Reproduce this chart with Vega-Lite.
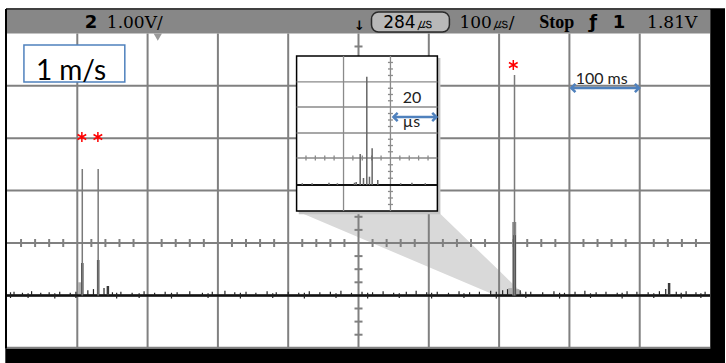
{
  "$schema": "https://vega.github.io/schema/vega-lite/v6.json",
  "width": 726,
  "height": 363,
  "autosize": {"type": "fit", "contains": "padding"},
  "padding": 0,
  "background": "white",
  "config": {"view": {"stroke": null}},
  "encoding": {
    "x": {"field": "x", "type": "quantitative", "scale": {"domain": [-509.94, 521.31], "nice": false, "zero": false}, "axis": null},
    "y": {"field": "y", "type": "quantitative", "scale": {"domain": [-2.29, 4.637], "nice": false, "zero": false}, "axis": null}
  },
  "layer": [
    {
      "data": {"values": [{"x": -500, "x2": 500, "y": 4.0, "y2": 4.447}]},
      "mark": {"type": "rect", "color": "#878787"},
      "encoding": {"x2": {"field": "x2"}, "y2": {"field": "y2"}}
    },
    {
      "data": {"values": [
        {"x": -88.07, "y": 0.611, "y2": 0.611},
        {"x": 112.2, "y": 0.611, "y2": -0.529},
        {"x": 200.3, "y": -0.532, "y2": -1.031},
        {"x": 238.6, "y": -1.031, "y2": -1.031}
      ]},
      "mark": {"type": "area", "color": "#d9d9d9"},
      "encoding": {"y2": {"field": "y2"}}
    },
    {
      "data": {"values": [
        {"x": -400, "y": -2, "y2": 4}, {"x": -300, "y": -2, "y2": 4}, {"x": -200, "y": -2, "y2": 4},
        {"x": -100, "y": -2, "y2": 4}, {"x": 0, "y": -2, "y2": 4}, {"x": 100, "y": -2, "y2": 4},
        {"x": 200, "y": -2, "y2": 4}, {"x": 300, "y": -2, "y2": 4}, {"x": 400, "y": -2, "y2": 4}
      ]},
      "mark": {"type": "rule", "color": "#808080", "strokeWidth": 2},
      "encoding": {"y2": {"field": "y2"}}
    },
    {
      "data": {"values": [
        {"x": -500, "x2": 500, "y": -2}, {"x": -500, "x2": 500, "y": -1}, {"x": -500, "x2": 500, "y": 0},
        {"x": -500, "x2": 500, "y": 1}, {"x": -500, "x2": 500, "y": 2}, {"x": -500, "x2": 500, "y": 3}
      ]},
      "mark": {"type": "rule", "color": "#808080", "strokeWidth": 2},
      "encoding": {"x2": {"field": "x2"}}
    },
    {
      "data": {"values": [
        {"x": -480, "y": 0}, {"x": -460, "y": 0}, {"x": -440, "y": 0}, {"x": -420, "y": 0},
        {"x": -380, "y": 0}, {"x": -360, "y": 0}, {"x": -340, "y": 0}, {"x": -320, "y": 0},
        {"x": -280, "y": 0}, {"x": -260, "y": 0}, {"x": -240, "y": 0}, {"x": -220, "y": 0},
        {"x": -180, "y": 0}, {"x": -160, "y": 0}, {"x": -140, "y": 0}, {"x": -120, "y": 0},
        {"x": -80, "y": 0}, {"x": -60, "y": 0}, {"x": -40, "y": 0}, {"x": -20, "y": 0},
        {"x": 20, "y": 0}, {"x": 40, "y": 0}, {"x": 60, "y": 0}, {"x": 80, "y": 0},
        {"x": 120, "y": 0}, {"x": 140, "y": 0}, {"x": 160, "y": 0}, {"x": 180, "y": 0},
        {"x": 220, "y": 0}, {"x": 240, "y": 0}, {"x": 260, "y": 0}, {"x": 280, "y": 0},
        {"x": 320, "y": 0}, {"x": 340, "y": 0}, {"x": 360, "y": 0}, {"x": 380, "y": 0},
        {"x": 420, "y": 0}, {"x": 440, "y": 0}, {"x": 460, "y": 0}, {"x": 480, "y": 0}
      ]},
      "mark": {"type": "tick", "orient": "vertical", "size": 8, "thickness": 2, "color": "#808080", "opacity": 1}
    },
    {
      "data": {"values": [
        {"x": 0, "y": -1.75}, {"x": 0, "y": -1.5}, {"x": 0, "y": -1.25},
        {"x": 0, "y": -0.75}, {"x": 0, "y": -0.5}, {"x": 0, "y": -0.25},
        {"x": 0, "y": 0.25}, {"x": 0, "y": 0.5}, {"x": 0, "y": 0.75},
        {"x": 0, "y": 1.25}, {"x": 0, "y": 1.5}, {"x": 0, "y": 1.75},
        {"x": 0, "y": 2.25}, {"x": 0, "y": 2.5}, {"x": 0, "y": 2.75},
        {"x": 0, "y": 3.25}, {"x": 0, "y": 3.5}, {"x": 0, "y": 3.75}
      ]},
      "mark": {"type": "tick", "orient": "horizontal", "size": 8, "thickness": 2, "color": "#808080", "opacity": 1}
    },
    {
      "data": {"values": [
        {"x": -396, "y": -1, "y2": -0.75},
        {"x": 216, "y": -1, "y2": -0.86},
        {"x": 226, "y": -1, "y2": -0.88}
      ]},
      "mark": {"type": "rule", "color": "#b0b0b0", "strokeWidth": 4},
      "encoding": {"y2": {"field": "y2"}}
    },
    {
      "data": {"values": [{"x": -500, "x2": 500, "y": -1.0}]},
      "mark": {"type": "rule", "color": "#111111", "strokeWidth": 2.5},
      "encoding": {"x2": {"field": "x2"}}
    },
    {
      "data": {"values": [
        {"x": -495, "y": -1.05, "y2": -0.94}, {"x": -490, "y": -1, "y2": -0.93}, {"x": -478, "y": -1, "y2": -0.95}, {"x": -470, "y": -1.05, "y2": -0.96}, {"x": -465, "y": -1, "y2": -0.92},
        {"x": -452, "y": -1, "y2": -0.95}, {"x": -440, "y": -1, "y2": -0.94}, {"x": -432, "y": -1.06, "y2": -0.96}, {"x": -425, "y": -1, "y2": -0.93},
        {"x": -410, "y": -1, "y2": -0.95}, {"x": -402, "y": -1.05, "y2": -0.93}, {"x": -385, "y": -1, "y2": -0.9}, {"x": -377, "y": -1, "y2": -0.88},
        {"x": -362, "y": -1, "y2": -0.86}, {"x": -350, "y": -1, "y2": -0.94}, {"x": -344, "y": -1.06, "y2": -0.95}, {"x": -338, "y": -1, "y2": -0.93},
        {"x": -322, "y": -1, "y2": -0.95}, {"x": -312, "y": -1.05, "y2": -0.96}, {"x": -305, "y": -1, "y2": -0.92}, {"x": -290, "y": -1, "y2": -0.95},
        {"x": -275, "y": -1, "y2": -0.93}, {"x": -266, "y": -1.06, "y2": -0.95}, {"x": -258, "y": -1, "y2": -0.94}, {"x": -240, "y": -1, "y2": -0.92},
        {"x": -222, "y": -1, "y2": -0.95}, {"x": -214, "y": -1.05, "y2": -0.96}, {"x": -208, "y": -1, "y2": -0.93}, {"x": -190, "y": -1, "y2": -0.91},
        {"x": -176, "y": -1, "y2": -0.94}, {"x": -168, "y": -1.06, "y2": -0.95}, {"x": -160, "y": -1, "y2": -0.93}, {"x": -146, "y": -1, "y2": -0.95},
        {"x": -130, "y": -1, "y2": -0.92}, {"x": -122, "y": -1.05, "y2": -0.96}, {"x": -117, "y": -1, "y2": -0.94}, {"x": -100, "y": -1, "y2": -0.93},
        {"x": -85, "y": -1, "y2": -0.95}, {"x": -77, "y": -1.06, "y2": -0.95}, {"x": -70, "y": -1, "y2": -0.92}, {"x": -55, "y": -1, "y2": -0.94},
        {"x": -40, "y": -1, "y2": -0.93}, {"x": -32, "y": -1.05, "y2": -0.96}, {"x": -25, "y": -1, "y2": -0.91}, {"x": -10, "y": -1, "y2": -0.95},
        {"x": 5, "y": -1, "y2": -0.93}, {"x": 13, "y": -1.06, "y2": -0.95}, {"x": 20, "y": -1, "y2": -0.94}, {"x": 35, "y": -1, "y2": -0.92},
        {"x": 50, "y": -1, "y2": -0.95}, {"x": 58, "y": -1.05, "y2": -0.96}, {"x": 68, "y": -1, "y2": -0.93}, {"x": 82, "y": -1, "y2": -0.91},
        {"x": 97, "y": -1, "y2": -0.94}, {"x": 104, "y": -1.06, "y2": -0.95}, {"x": 112, "y": -1, "y2": -0.93}, {"x": 128, "y": -1, "y2": -0.95},
        {"x": 143, "y": -1, "y2": -0.92}, {"x": 150, "y": -1.05, "y2": -0.96}, {"x": 158, "y": -1, "y2": -0.94}, {"x": 172, "y": -1, "y2": -0.93},
        {"x": 188, "y": -1, "y2": -0.91}, {"x": 196, "y": -1.06, "y2": -0.93}, {"x": 205, "y": -1, "y2": -0.9}, {"x": 212, "y": -1, "y2": -0.88},
        {"x": 230, "y": -1, "y2": -0.9}, {"x": 238, "y": -1.05, "y2": -0.93}, {"x": 245, "y": -1, "y2": -0.93}, {"x": 262, "y": -1, "y2": -0.94},
        {"x": 278, "y": -1, "y2": -0.92}, {"x": 286, "y": -1.06, "y2": -0.95}, {"x": 293, "y": -1, "y2": -0.95}, {"x": 308, "y": -1, "y2": -0.93},
        {"x": 322, "y": -1, "y2": -0.91}, {"x": 330, "y": -1.05, "y2": -0.96}, {"x": 338, "y": -1, "y2": -0.94}, {"x": 352, "y": -1, "y2": -0.93},
        {"x": 368, "y": -1, "y2": -0.95}, {"x": 375, "y": -1.06, "y2": -0.95}, {"x": 382, "y": -1, "y2": -0.92}, {"x": 396, "y": -1, "y2": -0.93},
        {"x": 412, "y": -1, "y2": -0.94}, {"x": 420, "y": -1.05, "y2": -0.96}, {"x": 428, "y": -1, "y2": -0.92}, {"x": 437, "y": -1, "y2": -0.88},
        {"x": 452, "y": -1, "y2": -0.93}, {"x": 459, "y": -1.06, "y2": -0.95}, {"x": 466, "y": -1, "y2": -0.92}, {"x": 480, "y": -1, "y2": -0.94},
        {"x": 487, "y": -1.05, "y2": -0.96}, {"x": 493, "y": -1, "y2": -0.93}
      ]},
      "mark": {"type": "rule", "color": "#222222", "strokeWidth": 1.2},
      "encoding": {"y2": {"field": "y2"}}
    },
    {
      "data": {"values": [{"x": 221.5, "y": -1, "y2": 0.401}]},
      "mark": {"type": "rule", "color": "#8c8c8c", "strokeWidth": 4},
      "encoding": {"y2": {"field": "y2"}}
    },
    {
      "data": {"values": [
        {"x": -392.9, "y": -1, "y2": -0.382},
        {"x": -370.3, "y": -1, "y2": -0.324},
        {"x": -356.5, "y": -1, "y2": -0.821},
        {"x": 441.8, "y": -1, "y2": -0.763},
        {"x": 222.0, "y": -1, "y2": 0.15}
      ]},
      "mark": {"type": "rule", "color": "#3a3a3a", "strokeWidth": 2.5},
      "encoding": {"y2": {"field": "y2"}}
    },
    {
      "data": {"values": [
        {"x": -392.9, "y": -1, "y2": 1.412},
        {"x": -370.3, "y": -1, "y2": 1.412},
        {"x": 221.9, "y": -1, "y2": 3.206}
      ]},
      "mark": {"type": "rule", "color": "#7a7a7a", "strokeWidth": 1.5},
      "encoding": {"y2": {"field": "y2"}}
    },
    {
      "data": {"values": [{"x": -85, "x2": 116.5, "y": 0.55, "y2": 3.53}]},
      "mark": {"type": "rect", "color": "#c4c4c4"},
      "encoding": {"x2": {"field": "x2"}, "y2": {"field": "y2"}}
    },
    {
      "data": {"values": [{"x": -88.07, "x2": 112.2, "y": 0.611, "y2": 3.569}]},
      "mark": {"type": "rect", "fill": "white", "stroke": "black", "strokeWidth": 1.5},
      "encoding": {"x2": {"field": "x2"}, "y2": {"field": "y2"}}
    },
    {
      "data": {"values": [{"x": -21.3, "y": 0.611, "y2": 3.569}, {"x": 45.45, "y": 0.611, "y2": 3.569}]},
      "mark": {"type": "rule", "color": "#8a8a8a", "strokeWidth": 1.3},
      "encoding": {"y2": {"field": "y2"}}
    },
    {
      "data": {"values": [
        {"x": -88.07, "x2": 112.2, "y": 3.073}, {"x": -88.07, "x2": 112.2, "y": 2.595},
        {"x": -88.07, "x2": 112.2, "y": 2.099}, {"x": -88.07, "x2": 112.2, "y": 1.622}
      ]},
      "mark": {"type": "rule", "color": "#8a8a8a", "strokeWidth": 1.3},
      "encoding": {"x2": {"field": "x2"}}
    },
    {
      "data": {"values": [
        {"x": -74.7, "y": 1.622}, {"x": -61.4, "y": 1.622}, {"x": -48.0, "y": 1.622}, {"x": -34.7, "y": 1.622},
        {"x": -8.0, "y": 1.622}, {"x": 5.4, "y": 1.622}, {"x": 18.7, "y": 1.622}, {"x": 32.1, "y": 1.622},
        {"x": 58.8, "y": 1.622}, {"x": 72.2, "y": 1.622}, {"x": 85.5, "y": 1.622}, {"x": 98.9, "y": 1.622}
      ]},
      "mark": {"type": "tick", "orient": "vertical", "size": 5, "thickness": 1.3, "color": "#8a8a8a", "opacity": 1}
    },
    {
      "data": {"values": [
        {"x": 45.45, "y": 0.735}, {"x": 45.45, "y": 0.859}, {"x": 45.45, "y": 0.983},
        {"x": 45.45, "y": 1.236}, {"x": 45.45, "y": 1.365}, {"x": 45.45, "y": 1.493},
        {"x": 45.45, "y": 1.741}, {"x": 45.45, "y": 1.86}, {"x": 45.45, "y": 1.98},
        {"x": 45.45, "y": 2.223}, {"x": 45.45, "y": 2.347}, {"x": 45.45, "y": 2.471},
        {"x": 45.45, "y": 2.714}, {"x": 45.45, "y": 2.834}, {"x": 45.45, "y": 2.953},
        {"x": 45.45, "y": 3.197}, {"x": 45.45, "y": 3.321}, {"x": 45.45, "y": 3.445}
      ]},
      "mark": {"type": "tick", "orient": "horizontal", "size": 5, "thickness": 1.3, "color": "#8a8a8a", "opacity": 1}
    },
    {
      "data": {"values": [{"x": -88.07, "x2": 112.2, "y": 1.107}]},
      "mark": {"type": "rule", "color": "#111111", "strokeWidth": 2},
      "encoding": {"x2": {"field": "x2"}}
    },
    {
      "data": {"values": [
        {"x": 2.4, "y": 1.107, "y2": 1.698},
        {"x": 11.8, "y": 1.107, "y2": 3.174},
        {"x": 19.4, "y": 1.107, "y2": 1.807},
        {"x": 7.1, "y": 1.107, "y2": 1.24},
        {"x": 15.6, "y": 1.107, "y2": 1.265},
        {"x": 27.4, "y": 1.107, "y2": 1.202},
        {"x": -3.3, "y": 1.107, "y2": 1.164},
        {"x": -5.7, "y": 1.107, "y2": 1.15},
        {"x": -80, "y": 1.107, "y2": 1.14},
        {"x": -66, "y": 1.107, "y2": 1.14},
        {"x": -42, "y": 1.107, "y2": 1.15},
        {"x": -30, "y": 1.107, "y2": 1.14},
        {"x": 60, "y": 1.107, "y2": 1.14},
        {"x": 76, "y": 1.107, "y2": 1.15},
        {"x": 95, "y": 1.107, "y2": 1.14}
      ]},
      "mark": {"type": "rule", "color": "#666666", "strokeWidth": 1.5},
      "encoding": {"y2": {"field": "y2"}}
    },
    {
      "data": {"values": [{"x": -501.4, "x2": 521.31, "y": 4.466}]},
      "mark": {"type": "rule", "color": "black", "strokeWidth": 1.5},
      "encoding": {"x2": {"field": "x2"}}
    },
    {
      "data": {"values": [{"x": -501.4, "y": -2.02, "y2": 4.466}]},
      "mark": {"type": "rule", "color": "black", "strokeWidth": 2},
      "encoding": {"y2": {"field": "y2"}}
    },
    {
      "data": {"values": [
        {"x": 500.3, "x2": 521.31, "y": -2.29, "y2": 4.466},
        {"x": -502.4, "x2": 521.31, "y": -2.29, "y2": -2.02}
      ]},
      "mark": {"type": "rect", "color": "black"},
      "encoding": {"x2": {"field": "x2"}, "y2": {"field": "y2"}}
    },
    {
      "data": {"values": [{"x": 18.5, "x2": 129.3, "y": 4.027, "y2": 4.408}]},
      "mark": {"type": "rect", "fill": "#b8b8b8", "stroke": "#2a2a2a", "strokeWidth": 1.5, "cornerRadius": 7},
      "encoding": {"x2": {"field": "x2"}, "y2": {"field": "y2"}}
    },
    {
      "data": {"values": [
        {"x": -358, "y": 4.1, "text": "1.00V/"},
        {"x": 143.5, "y": 4.1, "text": "100㎲/"},
        {"x": 410.5, "y": 4.1, "text": "1.81V"}
      ]},
      "mark": {"type": "text", "align": "left", "baseline": "alphabetic", "font": "DejaVu Serif", "fontSize": 17, "color": "black"},
      "encoding": {"text": {"field": "text"}}
    },
    {
      "data": {"values": [{"x": 70.3, "y": 4.1, "text": "284㎲"}]},
      "mark": {"type": "text", "align": "center", "baseline": "alphabetic", "font": "DejaVu Sans", "fontSize": 17, "color": "black"},
      "encoding": {"text": {"field": "text"}}
    },
    {
      "data": {"values": [
        {"x": -380.5, "y": 4.1, "text": "2"},
        {"x": 333.8, "y": 4.1, "text": "ƒ"},
        {"x": 370.7, "y": 4.1, "text": "1"}
      ]},
      "mark": {"type": "text", "align": "center", "baseline": "alphabetic", "font": "DejaVu Sans", "fontWeight": "bold", "fontSize": 18, "color": "black"},
      "encoding": {"text": {"field": "text"}}
    },
    {
      "data": {"values": [{"x": 257.1, "y": 4.1, "text": "Stop"}]},
      "mark": {"type": "text", "align": "left", "baseline": "alphabetic", "font": "Liberation Serif", "fontWeight": "bold", "fontSize": 18, "color": "black"},
      "encoding": {"text": {"field": "text"}}
    },
    {
      "data": {"values": [{"x": 1.4, "y": 4.06, "text": "↓"}]},
      "mark": {"type": "text", "align": "center", "baseline": "alphabetic", "font": "DejaVu Sans", "fontWeight": "bold", "fontSize": 13, "color": "black"},
      "encoding": {"text": {"field": "text"}}
    },
    {
      "data": {"values": [{"x": -285.5, "y": 3.93}]},
      "mark": {"type": "point", "shape": "triangle-down", "filled": true, "size": 70, "color": "#9a9a9a", "opacity": 1}
    },
    {
      "data": {"values": [{"x": -475.9, "x2": -332.4, "y": 3.073, "y2": 3.779}]},
      "mark": {"type": "rect", "fill": "white", "stroke": "#4f81bd", "strokeWidth": 1.5},
      "encoding": {"x2": {"field": "x2"}, "y2": {"field": "y2"}}
    },
    {
      "data": {"values": [{"x": -409, "y": 3.111, "text": "1 m/s"}]},
      "mark": {"type": "text", "align": "center", "baseline": "alphabetic", "font": "Lato", "fontSize": 28, "color": "black"},
      "encoding": {"text": {"field": "text"}}
    },
    {
      "data": {"values": [{"x": -393.5, "y": 2.023}, {"x": -370.7, "y": 2.023}, {"x": 220.2, "y": 3.397}]},
      "mark": {"type": "point", "shape": "M0,-1L0,1M-0.87,-0.5L0.87,0.5M-0.87,0.5L0.87,-0.5", "filled": false, "size": 100, "stroke": "#ff0000", "strokeWidth": 1.5, "opacity": 1}
    },
    {
      "data": {"values": [{"x": 302.6, "x2": 399.1, "y": 2.958}, {"x": 49.7, "x2": 110.8, "y": 2.405}]},
      "mark": {"type": "rule", "color": "#4f81bd", "strokeWidth": 2.5},
      "encoding": {"x2": {"field": "x2"}}
    },
    {
      "data": {"values": [{"x": 302.6, "y": 2.958}, {"x": 49.7, "y": 2.405}]},
      "mark": {"type": "point", "shape": "M1,-1L0,0L1,1", "filled": false, "size": 70, "stroke": "#4f81bd", "strokeWidth": 2.5, "opacity": 1}
    },
    {
      "data": {"values": [{"x": 399.1, "y": 2.958}, {"x": 110.8, "y": 2.405}]},
      "mark": {"type": "point", "shape": "M-1,-1L0,0L-1,1", "filled": false, "size": 70, "stroke": "#4f81bd", "strokeWidth": 2.5, "opacity": 1}
    },
    {
      "data": {"values": [
        {"x": 345.9, "y": 3.034, "text": "100 ms"},
        {"x": 76, "y": 2.672, "text": "20"},
        {"x": 75.3, "y": 2.214, "text": "µs"}
      ]},
      "mark": {"type": "text", "align": "center", "baseline": "alphabetic", "font": "Lato", "fontSize": 16, "color": "#222222"},
      "encoding": {"text": {"field": "text"}}
    }
  ]
}
